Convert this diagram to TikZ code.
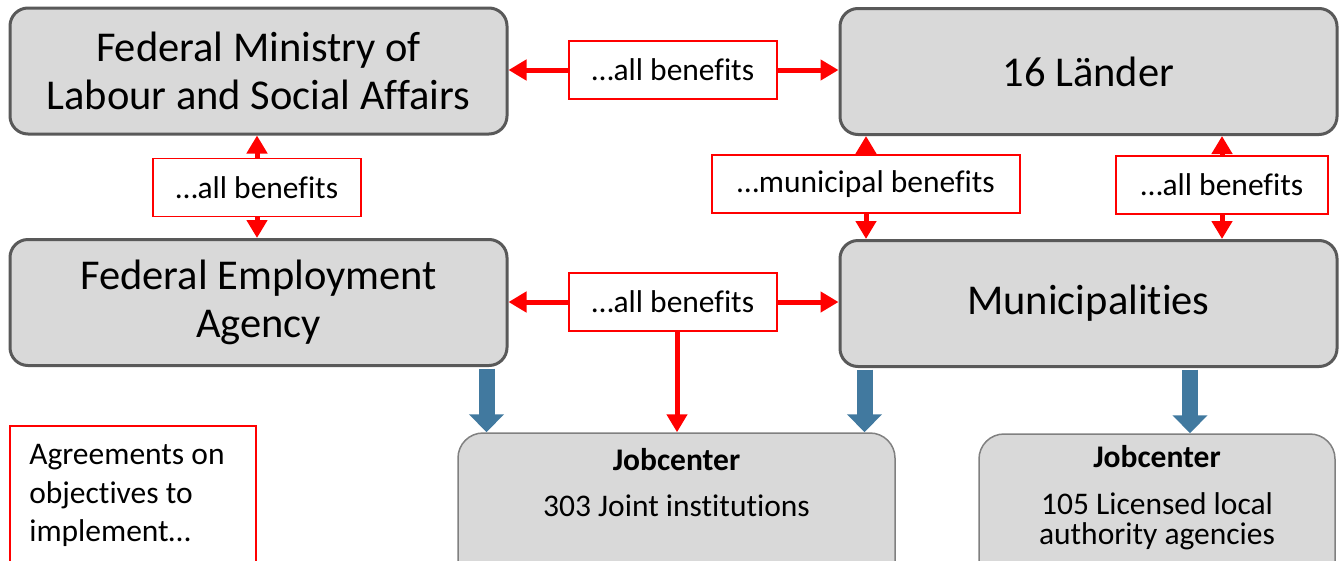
\documentclass[tikz,border=0pt]{standalone}
\usepackage{fontspec}
\setmainfont[Ligatures=NoCommon]{Carlito}
\usetikzlibrary{arrows.meta, positioning}
\definecolor{boxfill}{HTML}{D9D9D9}
\definecolor{boxline}{HTML}{595959}
\definecolor{jobline}{HTML}{808080}
\definecolor{flowblue}{HTML}{41799F}

\begin{document}
\begin{tikzpicture}[x=1pt, y=-1pt,
    mainbox/.style={draw=boxline, line width=3pt, fill=boxfill, rounded corners=18pt,
      minimum width=497pt, minimum height=126pt, align=center, inner sep=0pt,
      font=\fontsize{42.5}{48}\selectfont},
    lbl/.style={draw=red, line width=1.5pt, fill=white, minimum height=58pt,
      inner sep=0pt, font=\fontsize{31.5}{38}\selectfont},
    jobbox/.style={draw=jobline, line width=1.5pt, fill=boxfill, rounded corners=25pt,
      inner sep=0pt},
    txt/.style={inner sep=0pt, font=\fontsize{31.5}{30}\selectfont},
    redarr/.style={draw=red, line width=5pt, -{Triangle[width=20pt,length=18pt]}},
    bluearr/.style={draw=flowblue, line width=16pt, -{Triangle[width=34pt,length=18pt]}}]

  \useasboundingbox (0,0) rectangle (1340,560);
  \clip (0,0) rectangle (1340,560);

  % organisations
  \node[mainbox] (bmas) at (258.5,71) {Federal Ministry of\\Labour and Social Affairs};
  \node[mainbox] (laender) at (1088.5,71.5) {16 Länder};
  \node[mainbox] (ba) at (258.5,302.5) {Federal Employment\\Agency};
  \node[mainbox] (kommunen) at (1088.5,303.5) {Municipalities};

  % jobcenters
  \node[jobbox, minimum width=437pt, minimum height=170pt] (job1) at (676.5,518) {};
  \node[jobbox, minimum width=356pt, minimum height=170pt] (job2) at (1157,519) {};
  \node[txt, anchor=base] (job1title) at (676.5,470) {\bfseries Jobcenter};
  \node[txt, anchor=base] (job1text) at (676.5,516) {303 Joint institutions};
  \node[txt, anchor=base] (job2title) at (1157,467) {\bfseries Jobcenter};
  \node[txt, anchor=north, align=center] (job2text) at (1157,492)
    {105 Licensed local\\authority agencies};

  % agreements
  \node[draw=red, line width=1.8pt, minimum width=246pt, minimum height=180pt,
    inner sep=0pt] (agree) at (133,516) {};
  \node[anchor=north west, align=left, inner sep=0pt,
    font=\fontsize{31.5}{38.5}\selectfont] (agreetext)
    at ([xshift=20pt,yshift=-19pt]agree.north west)
    {Agreements on\\objectives to\\implement…};

  % labels
  \node[lbl, minimum width=208pt] (topben) at (673,70) {…all benefits};
  \node[lbl, minimum width=208pt] (leftben) at (257,187.5) {…all benefits};
  \node[lbl, minimum width=308pt] (munben) at (866,184) {…municipal benefits};
  \node[lbl, minimum width=212pt] (rightben) at (1222,185) {…all benefits};
  \node[lbl, minimum width=208pt] (midben) at (673,302) {…all benefits};

  % red arrows
  \draw[redarr] (topben.west) -- (topben.west -| bmas.east);
  \draw[redarr] (topben.east) -- (topben.east -| laender.west);
  \draw[redarr] (leftben.north) -- (leftben.north |- bmas.south);
  \draw[redarr] (leftben.south) -- (leftben.south |- ba.north);
  \draw[redarr] (munben.north) -- (munben.north |- laender.south);
  \draw[redarr] (munben.south) -- (munben.south |- kommunen.north);
  \draw[redarr] (rightben.north) -- (rightben.north |- laender.south);
  \draw[redarr] (rightben.south) -- (rightben.south |- kommunen.north);
  \draw[redarr] (midben.west) -- (midben.west -| ba.east);
  \draw[redarr] (midben.east) -- (midben.east -| kommunen.west);
  \draw[redarr] ([xshift=4pt]midben.south) -- ([xshift=4pt]midben.south |- job1.north);

  % blue arrows
  \draw[bluearr] ([xshift=-22pt,yshift=-1.5pt]ba.south east)
    -- ([xshift=-22pt]ba.south east |- job1.north);
  \draw[bluearr] ([xshift=26pt,yshift=-1.5pt]kommunen.south west)
    -- ([xshift=26pt]kommunen.south west |- job1.north);
  \draw[bluearr] ([xshift=101.5pt,yshift=-1.5pt]kommunen.south)
    -- ([xshift=101.5pt]kommunen.south |- job2.north);
\end{tikzpicture}
\end{document}
